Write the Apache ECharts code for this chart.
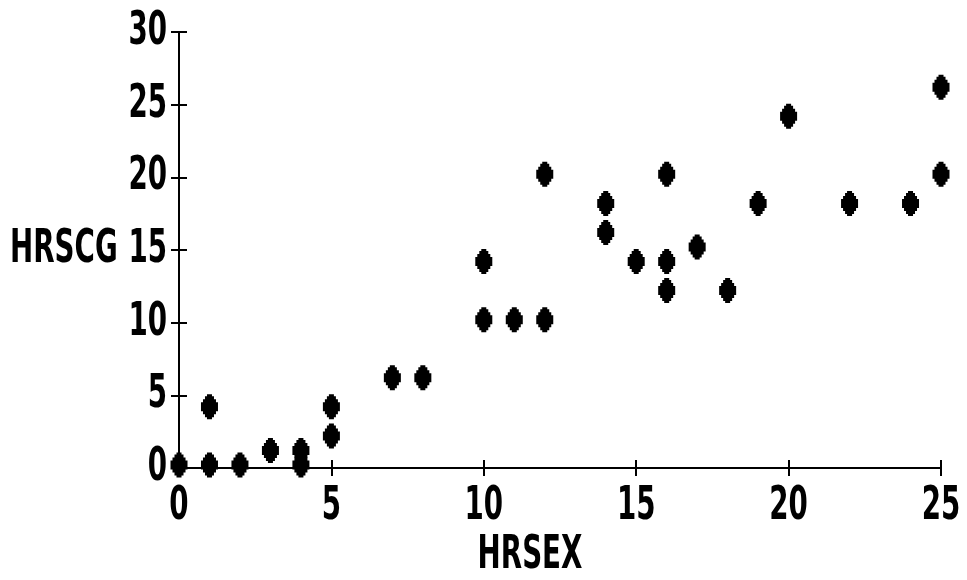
<!DOCTYPE html>
<html>
<head>
<meta charset="utf-8">
<script src="https://cdn.jsdelivr.net/npm/echarts@6/dist/echarts.min.js"></script>
<style>
  html, body { margin: 0; padding: 0; background: #fff; }
  #chart { width: 967px; height: 580px; }
</style>
</head>
<body>
<div id="chart"></div>
<script>
// Hours of exercise vs. hours of cardio-gain (scatter)
var hrsex = [0, 1, 1, 2, 3, 4, 4, 5, 5, 7, 8, 10, 10, 11, 12, 12, 14, 14, 15, 16, 16, 16, 17, 18, 19, 20, 22, 24, 25, 25];
var hrscg = [0, 0, 4, 0, 1, 1, 0, 2, 4, 6, 6, 10, 14, 10, 10, 20, 16, 18, 14, 12, 14, 20, 15, 12, 18, 24, 18, 18, 20, 26];
var xTicks = [0, 5, 10, 15, 20, 25];
var yTicks = [0, 5, 10, 15, 20, 25, 30];
var xName = 'HRSEX';
var yName = 'HRSCG';

// tall, narrow bold lettering: condensed face squeezed horizontally
var FONT = 'bold 46px "DejaVu Sans Condensed", "DejaVu Sans", sans-serif';
var SQUEEZE = 0.67;

var points = hrsex.map(function (x, i) { return [x, hrscg[i]]; });

// pixelated blob marker: narrow top and bottom, widest in the middle
var blob = 'path://M6,0 L11,0 L11,2 L13,2 L13,5 L15,5 L15,8 L17,8 L17,17 L15,17 L15,20 L13,20 L13,23 L11,23 L11,25 L6,25 L6,23 L4,23 L4,20 L2,20 L2,17 L0,17 L0,8 L2,8 L2,5 L4,5 L4,2 L6,2 Z';

var chart = echarts.init(document.getElementById('chart'), null, { renderer: 'canvas' });

function axisDef(ticks, pos, inside) {
  return {
    type: 'value', position: pos,
    min: ticks[0], max: ticks[ticks.length - 1], interval: 5,
    axisLine: { show: true, onZero: false, lineStyle: { color: '#000', width: 2 } },
    axisTick: { show: true, inside: inside, length: 8, lineStyle: { color: '#000', width: 2 } },
    axisLabel: { show: false },
    splitLine: { show: false }
  };
}

chart.setOption({
  backgroundColor: '#fff',
  animation: false,
  grid: { left: 179, right: 26, top: 32, bottom: 112, containLabel: false },
  // two copies of each axis so the tick marks cross the line
  xAxis: [axisDef(xTicks, 'bottom', false), axisDef(xTicks, 'bottom', true)],
  yAxis: [axisDef(yTicks, 'left', false), axisDef(yTicks, 'left', true)],
  series: [{
    type: 'scatter',
    xAxisIndex: 0, yAxisIndex: 0,
    data: points,
    symbol: blob,
    symbolSize: [17, 25],
    symbolOffset: [0, -3],
    itemStyle: { color: '#000', opacity: 1 },
    emphasis: { disabled: true }
  }]
});

// tick labels and axis titles, placed through the axis scales
function txt(text, x, y, align, vAlign) {
  return {
    type: 'text', x: x, y: y, scaleX: SQUEEZE, silent: true,
    style: { text: text, font: FONT, fill: '#000', align: align, verticalAlign: vAlign }
  };
}
var g = [];
var origin = chart.convertToPixel({ gridIndex: 0 }, [xTicks[0], yTicks[0]]);
xTicks.forEach(function (v) {
  var p = chart.convertToPixel({ gridIndex: 0 }, [v, yTicks[0]]);
  g.push(txt(String(v), p[0], origin[1] + 16, 'center', 'top'));
});
yTicks.forEach(function (v) {
  var p = chart.convertToPixel({ gridIndex: 0 }, [xTicks[0], v]);
  g.push(txt(String(v), origin[0] - 12, p[1], 'right', 'middle'));
});
var xMid = chart.convertToPixel({ gridIndex: 0 }, [12.5, 0]);
var yMid = chart.convertToPixel({ gridIndex: 0 }, [0, 15]);
g.push(txt(yName, 10, yMid[1], 'left', 'middle'));
g.push(txt(xName, xMid[0] - 30, 533, 'center', 'top'));
chart.setOption({ graphic: g });
</script>
</body>
</html>
